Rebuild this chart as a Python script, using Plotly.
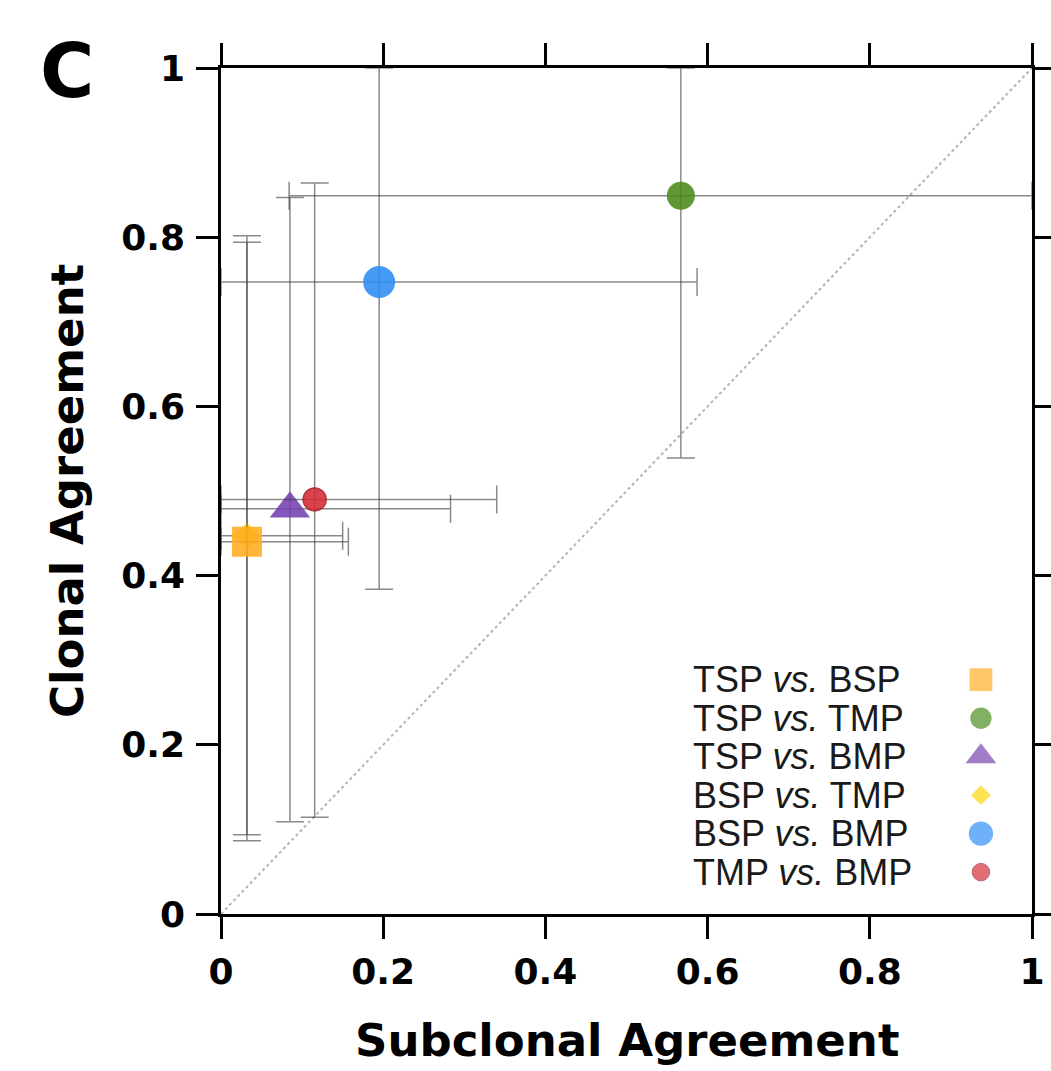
import plotly.graph_objects as go

# Pairwise comparisons between sampling sites
pairs = ["TSP vs. BSP", "TSP vs. TMP", "TSP vs. BMP",
         "BSP vs. TMP", "BSP vs. BMP", "TMP vs. BMP"]

# Point estimates
subclonal = [0.032, 0.567, 0.085, 0.032, 0.195, 0.1155]
clonal = [0.440, 0.849, 0.479, 0.447, 0.747, 0.490]

# Interval bounds
subclonal_low = [0.0, 0.084, 0.0, 0.0, 0.0, 0.0]
subclonal_high = [0.157, 1.0, 0.283, 0.150, 0.587, 0.340]
clonal_low = [0.0865, 0.539, 0.109, 0.0936, 0.384, 0.1145]
clonal_high = [0.794, 1.0, 0.847, 0.8017, 1.0, 0.864]

tick_vals = [0, 0.2, 0.4, 0.6, 0.8, 1]
tick_text = ["0", "0.2", "0.4", "0.6", "0.8", "1"]

# Marker styling per pair
colors = ["#FFAC20", "#4A8A1A", "#7440B0", "#FFD400", "#2B8CF5", "#D42A35"]
symbols = ["square", "circle", "triangle-up", "diamond", "circle", "circle"]
sizes = [30, 28, 35, 20, 32, 23]
legend_scale = 0.76

BOLD = dict(family="DejaVu Sans", color="black", weight="bold")

fig = go.Figure()

# identity line
fig.add_trace(go.Scatter(
    x=[0, 1], y=[0, 1], mode="lines",
    line=dict(color="#b4b4b4", width=2, dash="dot"),
    hoverinfo="skip", showlegend=False))

# draw the diamond before the square so the square sits on top
draw_order = [3, 0, 1, 2, 4, 5]
for i in draw_order:
    x = subclonal[i]
    y = clonal[i]
    fig.add_trace(go.Scatter(
        x=[x], y=[y], mode="markers", name=pairs[i], showlegend=False,
        marker=dict(symbol=symbols[i], size=sizes[i], color=colors[i],
                    opacity=0.88,
                    line=dict(width=1.5 if i == 5 else 0, color="#a01c24")),
        error_x=dict(type="data", symmetric=False,
                     array=[subclonal_high[i] - x],
                     arrayminus=[x - subclonal_low[i]],
                     color="rgba(60,60,60,0.6)", thickness=1.5, width=14),
        error_y=dict(type="data", symmetric=False,
                     array=[clonal_high[i] - y],
                     arrayminus=[y - clonal_low[i]],
                     color="rgba(60,60,60,0.6)", thickness=1.5, width=14),
    ))

# key in the lower right corner: text on the left, symbol on the right
key_text_x = 0.579
key_mark_x = 0.937
key_top = 0.277
key_step = 0.0455
annotations = []
for i, label in enumerate(pairs):
    ky = key_top - i * key_step
    a, b = label.split(" vs. ")
    annotations.append(dict(
        x=key_text_x, y=ky, xref="x", yref="y",
        text=f"{a} <i>vs.</i> {b}", showarrow=False,
        xanchor="left", yanchor="middle",
        font=dict(family="Liberation Sans", size=36, color="#1a1a1a")))
    fig.add_trace(go.Scatter(
        x=[key_mark_x], y=[ky], mode="markers", showlegend=False,
        hoverinfo="skip",
        marker=dict(symbol=symbols[i], size=sizes[i] * legend_scale,
                    color=colors[i], opacity=0.68,
                    line=dict(width=1 if i == 5 else 0, color="#a01c24"))))

# axis titles and panel letter
annotations += [
    dict(x=0.5, y=-0.150, xref="paper", yref="paper", showarrow=False,
         text="Subclonal Agreement", xanchor="center", yanchor="middle",
         font=dict(size=45, **BOLD)),
    dict(x=-0.190, y=0.5, xref="paper", yref="paper", showarrow=False,
         text="Clonal Agreement", textangle=-90,
         xanchor="center", yanchor="middle",
         font=dict(size=45, **BOLD)),
    dict(x=-0.190, y=0.996, xref="paper", yref="paper", showarrow=False,
         text="C", xanchor="center", yanchor="middle",
         font=dict(size=74, **BOLD)),
]

axis_common = dict(
    range=[0, 1], tickvals=tick_vals, ticktext=tick_text,
    ticks="outside", ticklen=22, tickwidth=2.5, tickcolor="black",
    showline=True, linewidth=2.5, linecolor="black", mirror="allticks",
    showgrid=False, zeroline=False, automargin=False,
    tickfont=dict(size=36, **BOLD),
)

fig.update_layout(
    width=1051, height=1071,
    margin=dict(l=221, r=19, t=68, b=157, autoexpand=False),
    plot_bgcolor="white", paper_bgcolor="white",
    xaxis=dict(**axis_common, ticklabelstandoff=2),
    yaxis=dict(**axis_common, ticklabelstandoff=4),
    annotations=annotations,
    showlegend=False,
)

fig.write_html("out.html")
